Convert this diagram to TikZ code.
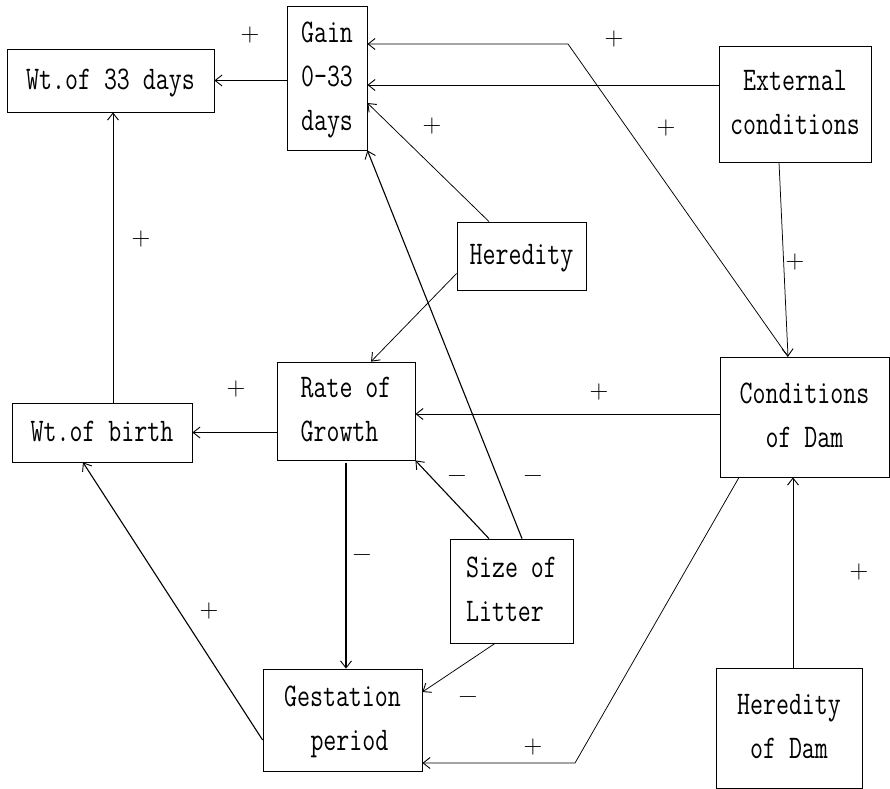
\documentclass[tikz,border=0pt]{standalone}
\usepackage{fontspec}
\usepackage{graphicx}
\usetikzlibrary{arrows.meta}
\newcommand{\boxtext}[2][c]{\scalebox{0.84}[1.1]{\begin{tabular}{@{}#1@{}}#2\end{tabular}}}
\tikzset{
  box/.style={draw, line width=0.8pt, inner sep=0pt, rectangle,
    font=\ttfamily\fontsize{30}{40}\selectfont},
  arr/.style={line width=0.75pt, -{Straight Barb[length=7pt,width=11pt,line width=0.9pt]}},
  arrb/.style={arr, line width=1.1pt},
  sign/.style={inner sep=0pt, font=\rmfamily\fontsize{26}{30}\selectfont}
}
\begin{document}
\begin{tikzpicture}[x=1pt,y=-1pt]
\useasboundingbox (0,0) rectangle (890,788);
% boxes
\node[box, minimum width=207pt, minimum height=63pt] (w33) at (110.5,80.5) {\boxtext{Wt.of 33 days}};
\node[box, minimum width=80pt, minimum height=144pt] (gain) at (327,78) {\boxtext{Gain\\0-33\\days}};
\node[box, minimum width=152pt, minimum height=116pt] (ext) at (795,104) {\boxtext{External\\conditions}};
\node[box, minimum width=129pt, minimum height=68pt] (her) at (521.5,256) {\boxtext{Heredity}};
\node[box, minimum width=138pt, minimum height=98pt] (rate) at (346,411) {\boxtext[l]{Rate of\\Growth}};
\node[box, minimum width=180pt, minimum height=59pt] (wb) at (102,432.5) {\boxtext{Wt.of birth}};
\node[box, minimum width=169pt, minimum height=120pt] (cod) at (804.5,417) {\boxtext{Conditions\\of Dam}};
\node[box, minimum width=123pt, minimum height=104pt] (size) at (511.5,591) {\boxtext[l]{Size of\\Litter}};
\node[box, minimum width=159pt, minimum height=102pt] (gest) at (342.5,720) {\boxtext{Gestation\\\hspace*{0.55em}period}};
\node[box, minimum width=146pt, minimum height=120pt] (hdam) at (789,728) {\boxtext{Heredity\\of Dam}};
% coordinates for bends
\coordinate (k1) at (568,44);
\coordinate (k2) at (575,763);
% connectors
\draw[arr] (gain.west |- w33.east) -- (w33.east);
\draw[arr] ([yshift=19pt]ext.west) -- ([yshift=19pt]ext.west -| gain.east);
\draw[arr] ([xshift=-16.5pt]cod.north) -- (k1) -- (gain.east |- k1);
\draw[arr] ([xshift=-16pt]ext.south) -- ([xshift=-16.5pt]cod.north);
\draw[arr] ([xshift=-32.5pt]her.north) -- ([yshift=-25pt]gain.east);
\draw[arrb] ([xshift=10.5pt]size.north) -- (gain.south east);
\draw[arr] ([yshift=-17.5pt]her.west) -- ([xshift=25pt]rate.north);
\draw[arr] ([yshift=3pt]cod.west) -- ([yshift=3pt]cod.west -| rate.east);
\draw[arr] (rate.west |- wb.east) -- (wb.east);
\draw[arr] ([xshift=11pt]wb.north) -- ([xshift=11pt]wb.north |- w33.south);
\draw[arrb] ([yshift=-3pt]rate.south) -- (rate.south |- gest.north);
\draw[arrb] ([xshift=-22.5pt]size.north) -- (rate.south east);
\draw[arr] ([xshift=-16.5pt]size.south) -- ([yshift=28pt]gest.east);
\draw[arr] ([xshift=-65.5pt]cod.south) -- (k2) -- (gest.east |- k2);
\draw[arrb] ([yshift=-20pt]gest.west) -- ([xshift=-19pt]wb.south);
\draw[arr] ([xshift=4pt]hdam.north) -- ([xshift=4pt]hdam.north |- cod.south);
% signs
\node[sign] (p1) at (250,35) {+};
\node[sign] (p2) at (614,39) {+};
\node[sign] (p3) at (432,126) {+};
\node[sign] (p4) at (666,128) {+};
\node[sign] (p5) at (141,239) {+};
\node[sign] (p6) at (795,262) {+};
\node[sign] (p7) at (236,389) {+};
\node[sign] (p8) at (599,392) {+};
\node[sign] (p9) at (209,611) {+};
\node[sign] (p10) at (859,572) {+};
\node[sign] (p11) at (533,747) {+};
\node[sign] (m1) at (457,479) {−};
\node[sign] (m2) at (533,479) {−};
\node[sign] (m3) at (362,558) {−};
\node[sign] (m4) at (468,700) {−};
\end{tikzpicture}
\end{document}
